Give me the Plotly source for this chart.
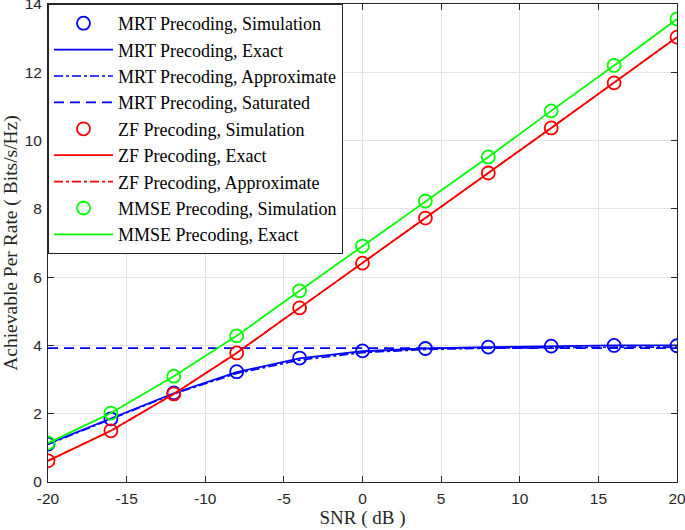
import plotly.graph_objects as go

snr = [-20, -16, -12, -8, -4, 0, 4, 8, 12, 16, 20]
mrt_sim = [1.11, 1.85, 2.61, 3.23, 3.63, 3.84, 3.91, 3.95, 3.98, 4.00, 3.99]
mrt_exact = [1.12, 1.85, 2.60, 3.22, 3.62, 3.83, 3.91, 3.95, 3.98, 4.00, 4.00]
mrt_approx = [1.10, 1.83, 2.58, 3.18, 3.57, 3.79, 3.88, 3.92, 3.94, 3.95, 3.95]
mrt_sat = [3.92] * len(snr)
zf_sim = [0.62, 1.50, 2.58, 3.78, 5.10, 6.41, 7.73, 9.05, 10.37, 11.69, 13.03]
zf_exact = [0.62, 1.50, 2.58, 3.78, 5.10, 6.41, 7.73, 9.05, 10.37, 11.69, 13.03]
zf_approx = [0.62, 1.50, 2.58, 3.78, 5.10, 6.41, 7.73, 9.05, 10.37, 11.69, 13.03]
mmse_sim = [1.14, 2.02, 3.10, 4.28, 5.60, 6.91, 8.23, 9.52, 10.87, 12.20, 13.56]
mmse_exact = [1.14, 2.02, 3.10, 4.28, 5.60, 6.91, 8.23, 9.52, 10.87, 12.20, 13.56]

x_ticks = [-20, -15, -10, -5, 0, 5, 10, 15, 20]
x_tick_labels = ["-20", "-15", "-10", "-5", "0", "5", "10", "15", "20"]
y_ticks = [0, 2, 4, 6, 8, 10, 12, 14]
y_tick_labels = ["0", "2", "4", "6", "8", "10", "12", "14"]

BLUE = "#0000ff"
RED = "#ff0000"
GREEN = "#00ff00"
SERIF = "Liberation Serif, Times New Roman, serif"
SANS = "Liberation Sans, Arial, sans-serif"

fig = go.Figure()
mk = dict(symbol="circle-open", size=13, line=dict(width=1.8))

fig.add_trace(go.Scatter(x=snr, y=mrt_sim, mode="markers", name="MRT Precoding, Simulation",
                         marker=dict(color=BLUE, **mk)))
fig.add_trace(go.Scatter(x=snr, y=mrt_exact, mode="lines", name="MRT Precoding, Exact",
                         line=dict(color=BLUE, width=1.8)))
fig.add_trace(go.Scatter(x=snr, y=mrt_approx, mode="lines", name="MRT Precoding, Approximate",
                         line=dict(color=BLUE, width=1.6, dash="dashdot")))
fig.add_trace(go.Scatter(x=snr, y=mrt_sat, mode="lines", name="MRT Precoding, Saturated",
                         line=dict(color=BLUE, width=1.8, dash="10px,6px")))
fig.add_trace(go.Scatter(x=snr, y=zf_sim, mode="markers", name="ZF Precoding, Simulation",
                         marker=dict(color=RED, **mk)))
fig.add_trace(go.Scatter(x=snr, y=zf_exact, mode="lines", name="ZF Precoding, Exact",
                         line=dict(color=RED, width=1.8)))
fig.add_trace(go.Scatter(x=snr, y=zf_approx, mode="lines", name="ZF Precoding, Approximate",
                         line=dict(color=RED, width=1.6, dash="dashdot")))
fig.add_trace(go.Scatter(x=snr, y=mmse_sim, mode="markers", name="MMSE Precoding, Simulation",
                         marker=dict(color=GREEN, **mk)))
fig.add_trace(go.Scatter(x=snr, y=mmse_exact, mode="lines", name="MMSE Precoding, Exact",
                         line=dict(color=GREEN, width=1.8)))

axis_common = dict(showline=True, linecolor="#262626", linewidth=1, mirror="ticks",
                   ticks="inside", ticklen=6, tickcolor="#262626",
                   showgrid=True, gridcolor="#e3e3e3", gridwidth=1, zeroline=False,
                   automargin=False, ticklabeloverflow="allow",
                   tickfont=dict(family=SANS, size=15.5, color="#262626"))

fig.update_layout(
    width=685, height=530,
    margin=dict(l=48, r=8, t=4, b=48),
    paper_bgcolor="white", plot_bgcolor="white",
    xaxis=dict(range=[-20, 20], tickvals=x_ticks, ticktext=x_tick_labels, ticklabelstandoff=2,
               title=dict(text="SNR ( dB )", standoff=0,
                          font=dict(family=SERIF, size=19, color="#262626")),
               **axis_common),
    yaxis=dict(range=[0, 14], tickvals=y_ticks, ticktext=y_tick_labels, ticklabelstandoff=2,
               title=dict(text="Achievable Per Rate ( Bits/s/Hz)", standoff=2,
                          font=dict(family=SERIF, size=19.5, color="#262626")),
               **axis_common),
    legend=dict(x=0, y=1, xanchor="left", yanchor="top", bgcolor="white",
                bordercolor="#262626", borderwidth=1,
                font=dict(family=SERIF, size=18, color="#000000"),
                itemwidth=59, tracegroupgap=0),
    showlegend=True,
)

fig.write_html("out.html", config={"displayModeBar": False},
               post_script="document.body.style.margin='0';")
